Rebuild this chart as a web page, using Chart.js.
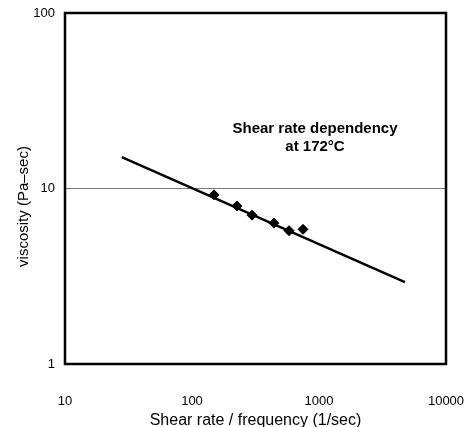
<!DOCTYPE html>
<html>
<head>
<meta charset="utf-8">
<script src="https://cdn.jsdelivr.net/npm/chart.js@4.4.0/dist/chart.umd.min.js"></script>
<style>
html, body { margin: 0; padding: 0; background: #fff; }
</style>
</head>
<body>
<canvas id="viscosity-graph" width="468" height="427"></canvas>
<script>
// measured points (shear rate in 1/sec, viscosity in Pa-sec)
const shearRate = [149, 226, 297, 442, 581, 748];
const viscosity = [9.2, 7.95, 7.05, 6.35, 5.75, 5.85];

// power-law fit line, just its two end points
const fitRate = [28, 4750];
const fitViscosity = [15.1, 2.93];

// tick labels
const xTicks = [10, 100, 1000, 10000];
const yTicks = [1, 10, 100];

const annotationLines = ['Shear rate dependency', 'at 172\u00B0C'];

const FONT = '"Liberation Sans", Arial, Helvetica, sans-serif';
Chart.defaults.font.family = FONT;
Chart.defaults.color = '#000';

// frame round the plot, the note and the y title
const framePlugin = {
    id: 'frame',
    afterDatasetsDraw(chart) {
        const {ctx, chartArea: a, scales} = chart;
        ctx.save();
        ctx.strokeStyle = '#000';
        ctx.lineWidth = 2.5;
        ctx.strokeRect(a.left, a.top, a.right - a.left, a.bottom - a.top);

        ctx.fillStyle = '#000';
        ctx.textAlign = 'center';
        ctx.textBaseline = 'middle';
        ctx.font = 'bold 15px ' + FONT;
        const ax = scales.x.getPixelForValue(930);
        const ay = scales.y.getPixelForValue(22);
        annotationLines.forEach((t, i) => ctx.fillText(t, ax, ay + i * 18));

        ctx.font = '15px ' + FONT;
        ctx.translate(24, (a.top + a.bottom) / 2 + 18);
        ctx.rotate(-Math.PI / 2);
        ctx.fillText('viscosity (Pa\u2013sec)', 0, 0);
        ctx.restore();
    }
};

const ctx = document.getElementById('viscosity-graph').getContext('2d');

const viscosityGraph = new Chart(ctx, {
    type: 'scatter',
    data: {
        datasets: [{
            label: 'fit',
            data: fitRate.map((x, i) => ({x: x, y: fitViscosity[i]})),
            showLine: true,
            borderColor: '#000',
            borderWidth: 2.5,
            pointRadius: 0
        }, {
            label: 'measured',
            data: shearRate.map((x, i) => ({x: x, y: viscosity[i]})),
            showLine: false,
            pointStyle: 'rectRot',
            pointRadius: 5,
            backgroundColor: '#000',
            borderColor: '#000',
            borderWidth: 1
        }]
    },
    options: {
        responsive: false,
        animation: false,
        layout: {
            padding: {top: 13, right: 22, left: 0, bottom: 0}
        },
        plugins: {
            legend: {display: false},
            tooltip: {enabled: false}
        },
        scales: {
            x: {
                type: 'logarithmic',
                min: 10,
                max: 10000,
                afterBuildTicks: s => { s.ticks = xTicks.map(v => ({value: v})); },
                afterFit: s => {
                    s.height = 63;
                    s.paddingLeft = 0;
                    s.paddingRight = 0;
                },
                grid: {display: false},
                border: {display: false},
                ticks: {
                    font: {size: 13},
                    padding: 22,
                    maxRotation: 0,
                    autoSkip: false,
                    callback: v => String(v)
                },
                title: {
                    display: true,
                    text: 'Shear rate / frequency (1/sec)',
                    font: {size: 16, lineHeight: 1},
                    padding: {top: 0, bottom: -2}
                }
            },
            y: {
                type: 'logarithmic',
                min: 1,
                max: 100,
                afterBuildTicks: s => { s.ticks = yTicks.map(v => ({value: v})); },
                afterFit: s => {
                    s.width = 65;
                    s.paddingTop = 0;
                    s.paddingBottom = 0;
                },
                grid: {
                    color: c => (c.tick && c.tick.value === 10) ? '#777' : 'rgba(0,0,0,0)',
                    lineWidth: 1,
                    drawTicks: false
                },
                border: {display: false},
                ticks: {
                    font: {size: 13},
                    padding: 10,
                    autoSkip: false,
                    callback: v => String(v)
                }
            }
        }
    },
    plugins: [framePlugin]
});
</script>
</body>
</html>
